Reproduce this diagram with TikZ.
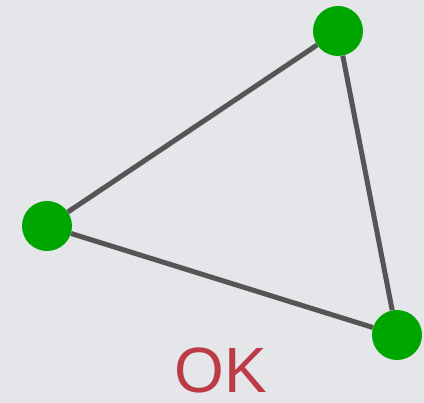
\documentclass[tikz,border=0pt]{standalone}
\usepackage{fontspec}
\setmainfont{Liberation Sans}

\definecolor{bggray}{RGB}{228,230,234}
\definecolor{vgreen}{RGB}{0,166,0}
\definecolor{edgegray}{RGB}{85,85,85}
\definecolor{okred}{RGB}{188,60,70}

\begin{document}
\begin{tikzpicture}[x=1pt,y=-1pt,
    vertex/.style={circle, fill=vgreen, inner sep=0pt, minimum size=50pt},
    edge/.style={draw=edgegray, line width=5pt}]
    % Background with the margins of the picture
    \fill[bggray] (0,0) rectangle (424,403);
    \useasboundingbox (0,0) rectangle (424,403);

    % The three vertices
    \node[vertex] (v1) at (338,31) {};  % Vertex top
    \node[vertex] (v2) at (47,226) {};  % Vertex left
    \node[vertex] (v3) at (397,335) {}; % Vertex bottom right

    % Edges of the triangle, stopping at the vertices
    \draw[edge] (v1) -- (v2);
    \draw[edge] (v2) -- (v3);
    \draw[edge] (v3) -- (v1);

    % Label below the triangle
    \node[anchor=base, text=okred, font=\fontsize{64}{64}\selectfont, inner sep=0pt] (ok) at (221,393) {OK};
\end{tikzpicture}
\end{document}
